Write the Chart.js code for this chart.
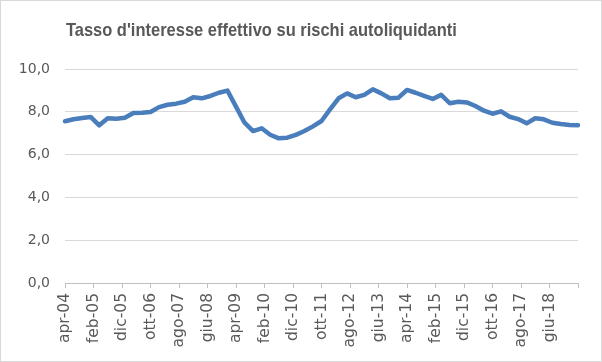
<!DOCTYPE html>
<html>
<head>
<meta charset="utf-8">
<script src="https://cdn.jsdelivr.net/npm/chart.js@4"></script>
<style>
  html,body{margin:0;padding:0;background:#fff;}
  #wrap{position:relative;width:602px;height:362px;}
  #cornice{position:absolute;left:0;top:0;width:602px;height:362px;box-sizing:border-box;border:1px solid #d9d9d9;pointer-events:none;}
  #titolo{position:absolute;left:0;top:19px;width:523px;text-align:center;white-space:nowrap;
    font-family:"Liberation Sans",Arial,sans-serif;font-weight:bold;font-size:19px;color:#595959;}
  #titolo span{display:inline-block;transform-origin:50% 50%;}
</style>
</head>
<body>
<div id="wrap">
  <canvas id="grafico" width="602" height="362"></canvas>
  <div id="titolo"><span id="titoloTesto">Tasso d'interesse effettivo su rischi autoliquidanti</span></div>
  <div id="cornice"></div>
</div>
<script>
'use strict';
// valori trimestrali, a partire da apr-04 (un punto ogni 3 mesi)
var passoMesi=3;
var valori=[7.56,7.65,7.71,7.76,7.37,7.70,7.68,7.72,7.94,7.96,
            7.99,8.22,8.33,8.38,8.47,8.68,8.63,8.74,8.89,8.99,
            8.24,7.49,7.10,7.23,6.93,6.76,6.79,6.92,7.10,7.32,
            7.57,8.11,8.63,8.86,8.68,8.79,9.05,8.86,8.63,8.66,
            9.02,8.89,8.74,8.60,8.79,8.40,8.47,8.44,8.27,8.05,
            7.91,8.02,7.77,7.66,7.46,7.70,7.65,7.49,7.43,7.38,
            7.37];
// etichette dell'asse x, una ogni 10 mesi
var etichette=['apr-04','feb-05','dic-05','ott-06','ago-07','giu-08','apr-09','feb-10','dic-10',
               'ott-11','ago-12','giu-13','apr-14','feb-15','dic-15','ott-16','ago-17','giu-18'];
var yTicks=[0,2,4,6,8,10];

// titolo compresso alla larghezza del font originale
var t=document.getElementById('titoloTesto');
t.style.transform='scaleX('+(391/t.getBoundingClientRect().width)+')';

var punti=valori.map(function(v,i){return {x:i*passoMesi,y:v};});
var grigio='#595959';

var ctx=document.getElementById('grafico');
var chart=new Chart(ctx,{
  type:'line',
  data:{datasets:[{label:'Tasso',data:punti,borderColor:'#4a7dbb',borderWidth:4.5,
    pointRadius:0,tension:0,borderJoinStyle:'round',borderCapStyle:'round',clip:false}]},
  options:{
    responsive:false,animation:false,
    layout:{padding:{top:69,right:24,bottom:0,left:0}},
    plugins:{legend:{display:false},tooltip:{enabled:false},title:{display:false}},
    scales:{
      x:{type:'linear',min:0,max:180,
        afterFit:function(s){s.height=79;},
        grid:{drawOnChartArea:false,drawTicks:true,tickLength:5,color:'#bfbfbf'},
        border:{display:true,color:'#bfbfbf',width:1},
        ticks:{stepSize:10,autoSkip:false,minRotation:90,maxRotation:90,padding:5,color:grigio,
          font:{family:'"DejaVu Sans"',size:15.5},
          callback:function(v){var e=etichette[Math.round(v/10)];return e===undefined?'':e;}}
      },
      y:{min:0,max:10,
        afterFit:function(s){s.width=65;},
        afterBuildTicks:function(s){s.ticks=yTicks.map(function(v){return {value:v};});},
        grid:{color:'#d9d9d9',lineWidth:1,drawTicks:false},
        border:{display:false},
        ticks:{padding:15,color:grigio,font:{family:'"DejaVu Sans"',size:14},
          callback:function(v){return v.toFixed(1).replace('.',',');}}
      }
    }
  }
});
</script>
</body>
</html>
